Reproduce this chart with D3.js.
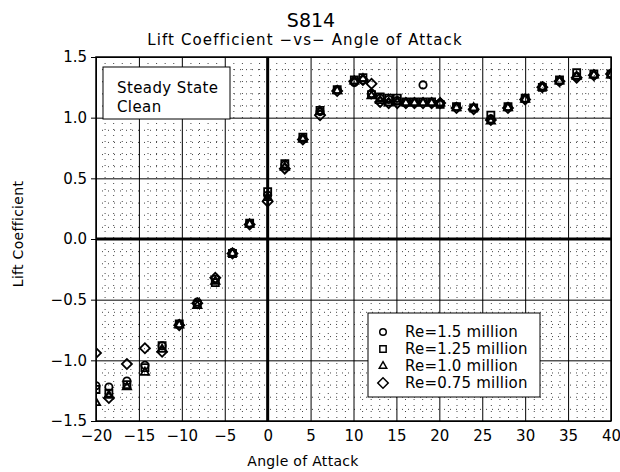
<!DOCTYPE html>
<html>
<head>
<meta charset="utf-8">
<script src="https://cdn.jsdelivr.net/npm/d3@7"></script>
<style>
  body { margin: 0; background: #fff; }
  svg text { font-family: "DejaVu Sans", sans-serif; fill: #000; }
</style>
</head>
<body>
<div id="chart"></div>
<script>
// angle of attack (deg), shared by all four runs
const angles = [-20, -18.5, -16.4, -14.3, -12.3, -10.3, -8.2, -6.1, -4.1, -2.1, 0, 2, 4.1, 6.1, 8.1,
  10.1, 11.1, 12.1, 13.1, 14.1, 15.1, 16.1, 17.1, 18.1, 19.1, 20.1, 22, 24, 26, 28, 30, 32, 34, 36, 38, 40];

const clRe150 = [-1.21, -1.22, -1.17, -1.04, -0.88, -0.70, -0.52, -0.33, -0.11, 0.13, 0.36, 0.61, 0.83, 1.05, 1.23,
  1.29, 1.31, 1.20, 1.16, 1.15, 1.14, 1.12, 1.12, 1.27, 1.12, 1.12, 1.09, 1.08, 0.99, 1.09, 1.16, 1.26, 1.30, 1.34, 1.35, 1.36];
const clRe125 = [-1.24, -1.27, -1.20, -1.06, -0.88, -0.70, -0.54, -0.36, -0.12, 0.13, 0.39, 0.62, 0.84, 1.06, 1.23,
  1.31, 1.33, 1.19, 1.17, 1.16, 1.16, 1.13, 1.13, 1.13, 1.13, 1.11, 1.09, 1.08, 1.02, 1.09, 1.16, 1.25, 1.31, 1.37, 1.36, 1.36];
const clRe100 = [-1.35, -1.29, -1.22, -1.10, -0.91, -0.71, -0.55, -0.35, -0.12, 0.12, 0.34, 0.59, 0.82, 1.05, 1.22,
  1.30, 1.32, 1.18, 1.14, 1.12, 1.13, 1.12, 1.12, 1.12, 1.12, 1.12, 1.08, 1.08, 0.97, 1.08, 1.15, 1.25, 1.30, 1.34, 1.35, 1.35];
const clRe075 = [-0.94, -1.31, -1.03, -0.90, -0.93, -0.71, -0.53, -0.32, -0.12, 0.12, 0.31, 0.58, 0.82, 1.02, 1.22,
  1.30, 1.31, 1.28, 1.13, 1.12, 1.12, 1.12, 1.12, 1.12, 1.12, 1.12, 1.08, 1.07, 0.98, 1.08, 1.15, 1.25, 1.30, 1.33, 1.35, 1.36];

const seriesNames = ['Re=1.5 million', 'Re=1.25 million', 'Re=1.0 million', 'Re=0.75 million'];
const seriesSymbols = [d3.symbolCircle, d3.symbolSquare, d3.symbolTriangle, d3.symbolSquare];
const seriesSizes = [42, 50, 30, 50];
const seriesRotate = [0, 0, 0, 45];
const xTicks = [-20, -15, -10, -5, 0, 5, 10, 15, 20, 25, 30, 35, 40];
const yTicks = [-1.5, -1.0, -0.5, 0.0, 0.5, 1.0, 1.5];

(function(){
  const W = 620, H = 472,
        margin = {top: 57, left: 96, right: 9, bottom: 51};
  const width = W - margin.left - margin.right,
        height = H - margin.top - margin.bottom;

  const x = d3.scaleLinear().domain([-20, 40]).range([0, width]);
  const y = d3.scaleLinear().domain([-1.5, 1.5]).range([height, 0]);

  const root = d3.select('#chart').append('svg')
    .attr('width', W).attr('height', H);

  root.append('defs').append('clipPath').attr('id', 'plot-clip')
    .append('rect').attr('width', width).attr('height', height);

  root.append('text').attr('x', 311).attr('y', 27)
    .attr('text-anchor', 'middle').attr('font-size', 19).text('S814');
  root.append('text').attr('x', 305).attr('y', 45)
    .attr('text-anchor', 'middle').attr('font-size', 15).attr('letter-spacing', 1.1)
    .text('Lift Coefficient \u2212vs\u2212 Angle of Attack');

  const svg = root.append('g')
    .attr('transform', 'translate(' + margin.left + ',' + margin.top + ')');

  // minor dotted grid
  svg.append('g').selectAll('line').data(d3.range(-20, 41, 1).filter(d => d % 5 !== 0))
    .enter().append('line')
      .attr('x1', d => x(d) + 0.5).attr('x2', d => x(d) + 0.5)
      .attr('y1', 0).attr('y2', height)
      .attr('stroke', '#444').attr('stroke-width', 1).attr('stroke-dasharray', '1,5');
  svg.append('g').selectAll('line').data(d3.range(-15, 16, 1).filter(d => d % 5 !== 0))
    .enter().append('line')
      .attr('y1', d => y(d / 10) + 0.5).attr('y2', d => y(d / 10) + 0.5)
      .attr('x1', 0).attr('x2', width)
      .attr('stroke', '#444').attr('stroke-width', 1).attr('stroke-dasharray', '1,5');

  // major solid grid
  svg.append('g')
    .attr('transform', 'translate(0,' + height + ')')
    .call(d3.axisBottom(x).tickValues(xTicks).tickSize(-height).tickFormat(() => null))
    .call(g => g.select('.domain').remove())
    .selectAll('line').attr('stroke', '#000');
  svg.append('g')
    .call(d3.axisLeft(y).tickValues(yTicks).tickSize(-width).tickFormat(() => null))
    .call(g => g.select('.domain').remove())
    .selectAll('line').attr('stroke', '#000');

  // zero lines
  svg.append('line').attr('x1', x(0)).attr('x2', x(0)).attr('y1', 0).attr('y2', height)
    .attr('stroke', '#000').attr('stroke-width', 3);
  svg.append('line').attr('x1', 0).attr('x2', width).attr('y1', y(0)).attr('y2', y(0))
    .attr('stroke', '#000').attr('stroke-width', 3);

  // tick labels
  svg.append('g')
    .attr('transform', 'translate(0,' + height + ')')
    .call(d3.axisBottom(x).tickValues(xTicks).tickSize(0).tickPadding(9)
      .tickFormat(d => d < 0 ? '\u2212' + Math.abs(d) : d))
    .call(g => g.select('.domain').remove())
    .selectAll('text').attr('font-size', 15).attr('font-family', '"DejaVu Sans", sans-serif');
  svg.append('g')
    .call(d3.axisLeft(y).tickValues(yTicks).tickSize(5).tickPadding(4)
      .tickFormat(d => (d < 0 ? '\u2212' : '') + Math.abs(d).toFixed(1)))
    .call(g => g.select('.domain').remove())
    .call(g => g.selectAll('line').attr('stroke', '#000'))
    .selectAll('text').attr('font-size', 15).attr('font-family', '"DejaVu Sans", sans-serif');

  // frame
  svg.append('rect').attr('width', width).attr('height', height)
    .attr('fill', 'none').attr('stroke', '#000').attr('stroke-width', 1.5);

  root.append('text').attr('x', 303).attr('y', 466)
    .attr('text-anchor', 'middle').attr('font-size', 14).attr('letter-spacing', 0.3).text('Angle of Attack');
  root.append('text').attr('transform', 'translate(23,234) rotate(-90)')
    .attr('text-anchor', 'middle').attr('font-size', 14).attr('letter-spacing', 0.3).text('Lift Coefficient');

  // data
  const allSeries = [clRe150, clRe125, clRe100, clRe075];
  const plot = svg.append('g').attr('clip-path', 'url(#plot-clip)');
  allSeries.forEach((vals, i) => {
    plot.append('g').selectAll('path')
      .data(angles.map((a, j) => ({a: a, cl: vals[j]})))
      .enter().append('path')
        .attr('transform', d => 'translate(' + x(d.a) + ',' + y(d.cl) + ') rotate(' + seriesRotate[i] + ')')
        .attr('d', d3.symbol().type(seriesSymbols[i]).size(seriesSizes[i]))
        .attr('fill', 'none').attr('stroke', '#000').attr('stroke-width', 1.8);
  });

  // annotation box
  root.append('rect').attr('x', 103).attr('y', 67).attr('width', 127).attr('height', 52)
    .attr('fill', '#fff').attr('stroke', '#000').attr('stroke-width', 1);
  root.append('text').attr('x', 117).attr('y', 93).attr('font-size', 15).attr('letter-spacing', 0.4).text('Steady State');
  root.append('text').attr('x', 117).attr('y', 112).attr('font-size', 15).attr('letter-spacing', 0.4).text('Clean');

  // legend
  const lg = root.append('g').attr('transform', 'translate(368,313)');
  lg.append('rect').attr('width', 172).attr('height', 84)
    .attr('fill', '#fff').attr('stroke', '#000').attr('stroke-width', 1);
  seriesNames.forEach((name, i) => {
    const row = lg.append('g').attr('transform', 'translate(0,' + (19 + i * 17) + ')');
    row.append('path').attr('transform', 'translate(15,0) rotate(' + seriesRotate[i] + ')')
      .attr('d', d3.symbol().type(seriesSymbols[i]).size(i === 2 ? 24 : seriesSizes[i] * (i === 3 ? 1.1 : 0.8)))
      .attr('fill', 'none').attr('stroke', '#000').attr('stroke-width', 1.5);
    row.append('text').attr('x', 37).attr('y', 5).attr('font-size', 15).attr('letter-spacing', 0.2).text(name);
  });
})();
</script>
</body>
</html>
